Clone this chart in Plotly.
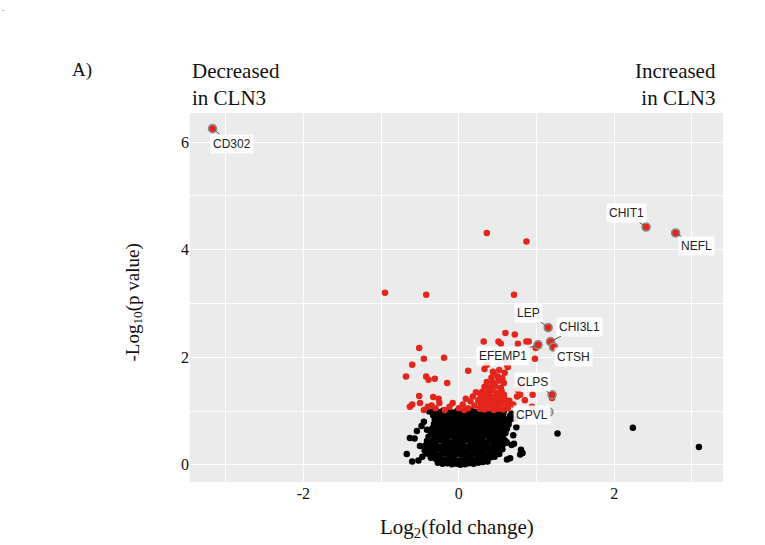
import plotly.graph_objects as go

# ---------------- data ----------------
# dense non-significant cloud (black), log2FC, -log10 p
black_core = [
    (-0.27, 0.04), (-0.21, 0.02), (-0.15, 0.03), (-0.09, 0.01), (-0.03, 0.02), (0.02, 0.00), (0.08, 0.01),
    (0.13, 0.03), (0.19, 0.02), (0.25, 0.04), (0.31, 0.05), (0.37, 0.06),
    (-0.36, 0.13), (-0.30, 0.11), (-0.24, 0.12), (-0.18, 0.10), (-0.12, 0.09), (-0.06, 0.11), (0.00, 0.08),
    (0.05, 0.10), (0.11, 0.12), (0.17, 0.09), (0.23, 0.11), (0.29, 0.13), (0.35, 0.12), (0.41, 0.14), (0.46, 0.15),
    (-0.42, 0.21), (-0.37, 0.19), (-0.31, 0.20), (-0.25, 0.18), (-0.19, 0.21), (-0.13, 0.19), (-0.07, 0.17),
    (-0.02, 0.20), (0.04, 0.18), (0.10, 0.21), (0.16, 0.19), (0.22, 0.22), (0.28, 0.20), (0.34, 0.18),
    (0.40, 0.21), (0.46, 0.23), (0.52, 0.20),
    (-0.44, 0.27), (-0.38, 0.29), (-0.33, 0.28), (-0.27, 0.30), (-0.21, 0.27), (-0.15, 0.29), (-0.09, 0.28),
    (-0.04, 0.26), (0.02, 0.29), (0.08, 0.27), (0.14, 0.30), (0.20, 0.28), (0.26, 0.29), (0.32, 0.27),
    (0.38, 0.30), (0.44, 0.28), (0.50, 0.31), (0.56, 0.29),
    (-0.43, 0.36), (-0.37, 0.35), (-0.31, 0.37), (-0.26, 0.34), (-0.20, 0.36), (-0.14, 0.38), (-0.08, 0.35),
    (-0.02, 0.37), (0.03, 0.36), (0.09, 0.34), (0.15, 0.37), (0.21, 0.35), (0.27, 0.38), (0.33, 0.36),
    (0.39, 0.34), (0.45, 0.37), (0.51, 0.36), (0.57, 0.38),
    (-0.41, 0.44), (-0.35, 0.45), (-0.29, 0.43), (-0.23, 0.46), (-0.17, 0.44), (-0.11, 0.42), (-0.05, 0.45),
    (0.01, 0.43), (0.06, 0.44), (0.12, 0.46), (0.18, 0.43), (0.24, 0.45), (0.30, 0.44), (0.36, 0.42),
    (0.42, 0.45), (0.48, 0.43), (0.54, 0.46), (0.60, 0.44),
    (-0.39, 0.52), (-0.33, 0.51), (-0.27, 0.53), (-0.21, 0.50), (-0.15, 0.52), (-0.09, 0.54), (-0.03, 0.51),
    (0.03, 0.53), (0.09, 0.52), (0.15, 0.50), (0.21, 0.53), (0.27, 0.51), (0.33, 0.54), (0.39, 0.52),
    (0.45, 0.50), (0.51, 0.53), (0.57, 0.51),
    (-0.36, 0.60), (-0.30, 0.59), (-0.24, 0.61), (-0.18, 0.58), (-0.12, 0.60), (-0.06, 0.62), (0.00, 0.59),
    (0.06, 0.61), (0.12, 0.60), (0.18, 0.58), (0.24, 0.61), (0.30, 0.59), (0.36, 0.62), (0.42, 0.60),
    (0.48, 0.58), (0.54, 0.61), (0.60, 0.59),
    (-0.34, 0.68), (-0.28, 0.67), (-0.22, 0.69), (-0.16, 0.66), (-0.10, 0.68), (-0.04, 0.70), (0.02, 0.67),
    (0.08, 0.69), (0.14, 0.68), (0.20, 0.66), (0.26, 0.69), (0.32, 0.67), (0.38, 0.70), (0.44, 0.68),
    (0.50, 0.66), (0.56, 0.69), (0.62, 0.67),
    (-0.32, 0.76), (-0.26, 0.75), (-0.20, 0.77), (-0.14, 0.74), (-0.08, 0.76), (-0.02, 0.78), (0.04, 0.75),
    (0.10, 0.77), (0.16, 0.76), (0.22, 0.74), (0.28, 0.77), (0.34, 0.75), (0.40, 0.78), (0.46, 0.76),
    (0.52, 0.74), (0.58, 0.77), (0.64, 0.75),
    (-0.31, 0.84), (-0.25, 0.83), (-0.19, 0.85), (-0.13, 0.82), (-0.07, 0.84), (-0.01, 0.86), (0.05, 0.83),
    (0.11, 0.85), (0.17, 0.84), (0.23, 0.82), (0.29, 0.85), (0.35, 0.83), (0.41, 0.86), (0.47, 0.84),
    (0.53, 0.82), (0.59, 0.85), (0.65, 0.83),
    (-0.33, 0.92), (-0.27, 0.91), (-0.21, 0.93), (-0.15, 0.90), (-0.09, 0.92), (-0.03, 0.94), (0.03, 0.91),
    (0.09, 0.93), (0.15, 0.92), (0.21, 0.90), (0.27, 0.93), (0.33, 0.91), (0.39, 0.94), (0.45, 0.92),
    (0.51, 0.90), (0.57, 0.93), (0.66, 0.91),
    (-0.38, 0.99), (-0.32, 1.00), (-0.26, 0.98), (-0.20, 1.01), (-0.14, 0.99), (-0.08, 0.97), (-0.02, 1.00),
    (0.04, 0.98), (0.10, 0.99), (0.16, 1.01), (0.22, 0.98), (0.28, 1.00), (0.34, 0.97), (0.40, 0.99),
    (0.46, 1.01), (0.52, 0.98), (0.58, 1.00),
]
black_outliers = [
    (-0.67, 0.20), (-0.63, 0.50), (-0.57, 0.49), (-0.54, 0.63), (-0.60, 0.06), (-0.50, 0.35),
    (-0.47, 0.15), (-0.52, 0.08), (-0.48, 0.72), (-0.45, 0.80), (-0.41, 0.65),
    (0.80, 0.28), (0.79, 0.19), (0.68, 0.37), (0.82, 0.22), (0.71, 0.39), (0.62, 0.41), (0.66, 0.12),
    (0.70, 0.55), (0.74, 0.70), (0.72, 0.85), (0.68, 0.95), (0.62, 0.10),
    (1.27, 0.58), (2.24, 0.69), (3.09, 0.33),
]
# significant points (red)
red_core = [
    (0.27, 1.04), (0.33, 1.03), (0.39, 1.05), (0.45, 1.02), (0.51, 1.04), (0.57, 1.03), (0.63, 1.05),
    (0.28, 1.12), (0.34, 1.11), (0.40, 1.13), (0.46, 1.10), (0.52, 1.12), (0.58, 1.14), (0.64, 1.11),
    (0.29, 1.20), (0.35, 1.19), (0.41, 1.21), (0.47, 1.18), (0.53, 1.20), (0.59, 1.22), (0.65, 1.19),
    (0.28, 1.28), (0.34, 1.27), (0.40, 1.29), (0.46, 1.26), (0.52, 1.28), (0.58, 1.30),
    (0.30, 1.36), (0.37, 1.35), (0.43, 1.38), (0.49, 1.34), (0.55, 1.37),
    (0.33, 1.45), (0.40, 1.44), (0.47, 1.46), (0.54, 1.43),
    (0.36, 1.54), (0.44, 1.53), (0.51, 1.56), (0.58, 1.52),
    (0.42, 1.62), (0.50, 1.64), (0.56, 1.61),
    (0.45, 1.69),
]
red_scattered = [
    (-0.95, 3.20), (-0.42, 3.16), (0.71, 3.16), (0.36, 4.31), (0.87, 4.15),
    (-0.51, 2.17), (-0.45, 1.97), (-0.19, 1.99), (-0.60, 1.86), (-0.68, 1.64), (-0.42, 1.64),
    (-0.39, 1.58), (-0.31, 1.60), (-0.15, 1.52), (0.12, 1.75),
    (-0.51, 1.28), (-0.33, 1.26), (-0.26, 1.23), (0.09, 1.23),
    (0.60, 2.45), (0.72, 2.42), (0.32, 2.29), (0.51, 2.29), (0.54, 2.25), (0.76, 2.25), (0.87, 2.29),
    (0.90, 2.29), (0.99, 2.17), (0.98, 1.97), (0.59, 1.97), (0.62, 1.86), (0.63, 1.82), (0.36, 1.86),
    (0.33, 1.78), (0.44, 1.73), (0.59, 1.71), (0.52, 1.76),
    (0.76, 1.39), (0.75, 1.27), (0.79, 1.30), (0.95, 1.30), (0.70, 1.12), (0.94, 1.08), (0.85, 1.20),
    (0.82, 1.45), (-0.60, 1.12), (-0.50, 1.15), (-0.40, 1.08), (-0.35, 1.10), (0.18, 1.27),
    (-0.63, 1.08), (-0.30, 1.05), (-0.18, 1.02), (-0.25, 1.15), (-0.12, 1.08), (0.00, 1.05),
    (0.05, 1.12), (0.12, 1.05), (0.20, 1.10), (0.15, 1.18), (0.22, 1.35), (0.25, 1.20),
    (-0.45, 1.02), (-0.08, 1.15), (0.07, 1.02), (1.20, 1.24),
]
# labelled genes
gene_names = ["CD302", "CHIT1", "NEFL", "LEP", "CHI3L1", "CTSH", "EFEMP1", "CLPS", "CPVL"]
gene_fc = [-3.17, 2.41, 2.79, 1.15, 1.18, 1.22, 1.02, 1.20, 1.16]
gene_p = [6.25, 4.42, 4.31, 2.55, 2.29, 2.19, 2.23, 1.30, 0.98]

x_ticks = [-2, 0, 2]
y_ticks = [0, 2, 4, 6]

# ---------------- styling ----------------
RED = "#E3251C"
SERIF = "Liberation Serif"
SANS = "Liberation Sans"
label_offsets = {  # pixel offsets of label centre from point
    "CD302": (19, 15), "CHIT1": (-20, -14), "NEFL": (21, 13), "LEP": (-20, -15),
    "CHI3L1": (29, -15), "CTSH": (20, 10), "EFEMP1": (-35, 11), "CLPS": (-20, -13), "CPVL": (-17, 3),
}

bx = [p[0] for p in black_core + black_outliers]
by = [p[1] for p in black_core + black_outliers]
rx = [p[0] for p in red_core + red_scattered]
ry = [p[1] for p in red_core + red_scattered]

fig = go.Figure()
fig.add_trace(go.Scatter(x=bx, y=by, mode="markers", marker=dict(size=6.5, color="black"), hoverinfo="skip"))
fig.add_trace(go.Scatter(x=rx, y=ry, mode="markers", marker=dict(size=6.5, color=RED), hoverinfo="skip"))
gcol = [RED if p >= 1 else "#BBBBBB" for p in gene_p]
fig.add_trace(go.Scatter(x=gene_fc, y=gene_p, mode="markers",
                         marker=dict(size=8, color=gcol, line=dict(color="#8C8C8C", width=1.6)),
                         text=gene_names, hoverinfo="text"))

annotations = []
for name, fx, py in zip(gene_names, gene_fc, gene_p):
    ax, ay = label_offsets[name]
    annotations.append(dict(
        x=fx, y=py, xref="x", yref="y", text=name, showarrow=True, arrowhead=0,
        arrowwidth=1, arrowcolor="#555555", ax=ax, ay=ay, standoff=3,
        font=dict(family=SANS, size=12, color="#222222"),
        bgcolor="rgba(255,255,255,0.88)", borderpad=2,
    ))

annotations += [
    dict(text="Decreased<br>in CLN3", xref="paper", yref="paper", x=0, y=1, xanchor="left",
         yanchor="bottom", align="left", yshift=1, showarrow=False,
         font=dict(family=SERIF, size=21, color="#111111")),
    dict(text="Increased<br>in CLN3", xref="paper", yref="paper", x=1, y=1, xanchor="right",
         yanchor="bottom", align="right", xshift=-5, yshift=1, showarrow=False,
         font=dict(family=SERIF, size=21, color="#111111")),
    dict(text="A)", xref="paper", yref="paper", x=0, y=1, xanchor="center", yanchor="middle",
         xshift=-108, yshift=43, showarrow=False, font=dict(family=SERIF, size=19, color="#111111")),
    dict(text=".", xref="paper", yref="paper", x=0, y=1, xanchor="center", yanchor="middle",
         xshift=-187, yshift=105, showarrow=False, font=dict(family=SERIF, size=9, color="#111111")),
    dict(text="Log<sub>2</sub>(fold change)", xref="paper", yref="paper", x=0.5, y=0,
         xanchor="center", yanchor="middle", yshift=-46, showarrow=False,
         font=dict(family=SERIF, size=21, color="#111111")),
    dict(text="-Log<sub>10</sub>(p value)", xref="paper", yref="paper", x=0, y=0.5,
         xanchor="center", yanchor="middle", xshift=-57, yshift=-5, textangle=-90, showarrow=False,
         font=dict(family=SERIF, size=19, color="#111111")),
]

fig.update_layout(
    width=765, height=545,
    margin=dict(l=190, r=42, t=113, b=63),
    paper_bgcolor="white", plot_bgcolor="#EBEBEB",
    showlegend=False,
    annotations=annotations,
    xaxis=dict(range=[-3.46, 3.40], tickvals=x_ticks, ticktext=[str(v) for v in x_ticks],
               showgrid=True, gridcolor="white", gridwidth=1.3, zeroline=False, showline=False,
               tickfont=dict(family=SERIF, size=16, color="#111111"),
               minor=dict(tickvals=[-3, -1, 1, 3], showgrid=True, gridcolor="white", gridwidth=0.6),
               fixedrange=True),
    yaxis=dict(range=[-0.32, 6.54], tickvals=y_ticks, ticktext=[str(v) for v in y_ticks],
               showgrid=True, gridcolor="white", gridwidth=1.3, zeroline=False, showline=False,
               tickfont=dict(family=SERIF, size=16, color="#111111"),
               minor=dict(tickvals=[1, 3, 5], showgrid=True, gridcolor="white", gridwidth=0.6),
               fixedrange=True),
)

fig.write_html("out.html")
